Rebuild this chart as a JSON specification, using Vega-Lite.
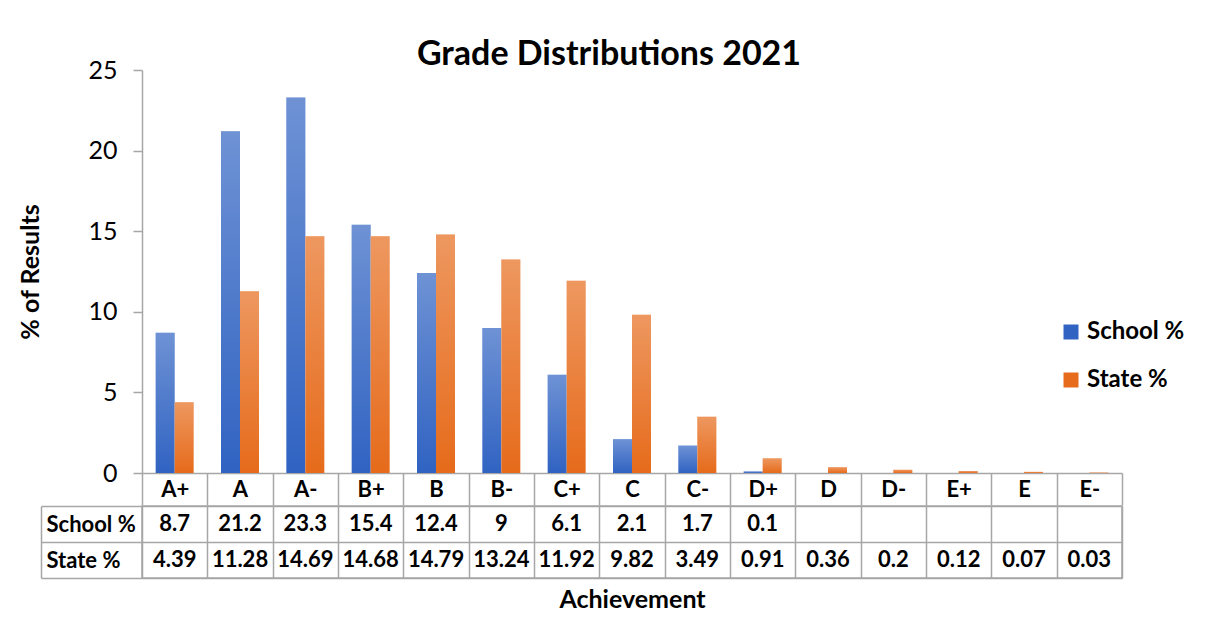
{
  "$schema": "https://vega.github.io/schema/vega-lite/v6.json",
  "padding": {"left": 18, "top": 38, "right": 5, "bottom": 5},
  "background": "white",
  "config": {"font": "Lato", "view": {"stroke": null}},
  "spacing": -12,
  "data": {"values": [
    {"grade": "A+", "series": "School %", "value": 8.7},
    {"grade": "A", "series": "School %", "value": 21.2},
    {"grade": "A-", "series": "School %", "value": 23.3},
    {"grade": "B+", "series": "School %", "value": 15.4},
    {"grade": "B", "series": "School %", "value": 12.4},
    {"grade": "B-", "series": "School %", "value": 9},
    {"grade": "C+", "series": "School %", "value": 6.1},
    {"grade": "C", "series": "School %", "value": 2.1},
    {"grade": "C-", "series": "School %", "value": 1.7},
    {"grade": "D+", "series": "School %", "value": 0.1},
    {"grade": "A+", "series": "State %", "value": 4.39},
    {"grade": "A", "series": "State %", "value": 11.28},
    {"grade": "A-", "series": "State %", "value": 14.69},
    {"grade": "B+", "series": "State %", "value": 14.68},
    {"grade": "B", "series": "State %", "value": 14.79},
    {"grade": "B-", "series": "State %", "value": 13.24},
    {"grade": "C+", "series": "State %", "value": 11.92},
    {"grade": "C", "series": "State %", "value": 9.82},
    {"grade": "C-", "series": "State %", "value": 3.49},
    {"grade": "D+", "series": "State %", "value": 0.91},
    {"grade": "D", "series": "State %", "value": 0.36},
    {"grade": "D-", "series": "State %", "value": 0.2},
    {"grade": "E+", "series": "State %", "value": 0.12},
    {"grade": "E", "series": "State %", "value": 0.07},
    {"grade": "E-", "series": "State %", "value": 0.03}
  ]},
  "vconcat": [
    {
      "width": 980,
      "height": 403,
      "title": {"text": "Grade Distributions 2021", "fontSize": 34, "fontWeight": "bold", "color": "black", "anchor": "middle", "dx": -23, "offset": -14},
      "encoding": {
        "x": {
          "field": "grade", "type": "nominal",
          "sort": ["A+", "A", "A-", "B+", "B", "B-", "C+", "C", "C-", "D+", "D", "D-", "E+", "E", "E-"],
          "scale": {"paddingInner": 0, "paddingOuter": 0},
          "axis": {"orient": "bottom", "title": null, "labelAngle": 0, "tickBand": "extent", "tickSize": 32, "tickColor": "#A6A6A6", "tickWidth": 1.5, "domainColor": "#A6A6A6", "domainWidth": 1.5, "labelFontSize": 22, "labelFontWeight": "bold", "labelColor": "black", "labelBaseline": "middle", "labelPadding": -16, "grid": false}
        },
        "xOffset": {"field": "series", "type": "nominal", "scale": {"domain": ["School %", "State %"], "paddingInner": 0, "paddingOuter": 0.72}},
        "y": {
          "field": "value", "type": "quantitative",
          "scale": {"domain": [0, 25], "nice": false},
          "axis": {"values": [0, 5, 10, 15, 20, 25], "tickSize": 9, "tickColor": "#A6A6A6", "tickWidth": 1.5, "domainColor": "#A6A6A6", "domainWidth": 1.5, "grid": false, "labelFontSize": 25, "labelColor": "black", "labelPadding": 16, "title": "% of Results", "titleFontSize": 25, "titleFontWeight": "bold", "titleColor": "black", "titlePadding": 44}
        }
      },
      "layer": [
        {
          "mark": {"type": "bar"},
          "encoding": {
            "color": {
              "field": "series", "type": "nominal",
              "scale": {"domain": ["School %", "State %"], "range": ["#3063C2", "#E66B1B"]},
              "legend": {"orient": "none", "legendX": 917, "legendY": 250, "title": null, "direction": "vertical", "symbolType": "square", "symbolSize": 225, "symbolStrokeWidth": 0, "symbolOpacity": 1, "labelFontSize": 24, "labelFontWeight": "bold", "labelColor": "black", "labelOffset": 4, "rowPadding": 24, "padding": 0}
            }
          }
        },
        {
          "mark": {"type": "bar", "fill": {"gradient": "linear", "x1": 0, "y1": 0, "x2": 0, "y2": 1, "stops": [{"offset": 0, "color": "rgba(255,255,255,0.3)"}, {"offset": 1, "color": "rgba(255,255,255,0)"}]}}
        }
      ]
    },
    {
      "width": 980,
      "height": 72,
      "view": {"stroke": "#A6A6A6", "strokeWidth": 1.5},
      "mark": {"type": "text", "fontWeight": "bold", "fontSize": 22, "color": "black"},
      "encoding": {
        "x": {
          "field": "grade", "type": "nominal",
          "sort": ["A+", "A", "A-", "B+", "B", "B-", "C+", "C", "C-", "D+", "D", "D-", "E+", "E", "E-"],
          "scale": {"domain": ["A+", "A", "A-", "B+", "B", "B-", "C+", "C", "C-", "D+", "D", "D-", "E+", "E", "E-"], "paddingInner": 0, "paddingOuter": 0},
          "axis": {"orient": "bottom", "labels": false, "ticks": false, "domain": false, "grid": true, "tickBand": "extent", "gridColor": "#A6A6A6", "gridWidth": 1.5, "gridOpacity": 1, "title": "Achievement", "titleFontSize": 25, "titleFontWeight": "bold", "titleColor": "black", "titlePadding": 9}
        },
        "y": {
          "field": "series", "type": "nominal",
          "scale": {"domain": ["School %", "State %"], "paddingInner": 0, "paddingOuter": 0},
          "axis": {"orient": "left", "offset": 101, "domainColor": "#A6A6A6", "domainWidth": 1.5, "ticks": true, "tickSize": -101, "tickBand": "extent", "tickColor": "#A6A6A6", "tickWidth": 1.5, "grid": true, "gridColor": "#A6A6A6", "gridWidth": 1.5, "gridOpacity": 1, "labelAlign": "left", "labelPadding": 96, "labelFontSize": 22, "labelFontWeight": "bold", "labelColor": "black", "title": null}
        },
        "text": {"field": "value", "type": "nominal"}
      }
    }
  ]
}
